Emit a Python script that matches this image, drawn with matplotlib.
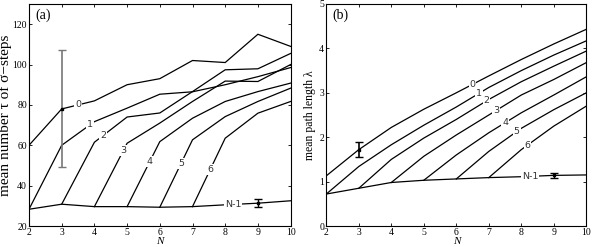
import numpy as np
import matplotlib
matplotlib.use("Agg")
import matplotlib.pyplot as plt

plt.rcParams["font.family"] = ["Liberation Serif", "DejaVu Serif"]
plt.rcParams["mathtext.fontset"] = "stix"

# ---------------- data ----------------
N_all = [2, 3, 4, 5, 6, 7, 8, 9, 10]

# panel (a): mean number tau of sigma-steps
a_c0 = [60, 78, 82, 90, 93, 102, 101, 115, 109]            # N=2..10
a_c1 = [28.3, 60, 71.7, 78.4, 85.3, 86.5, 90, 94, 98.5]    # N=2..10
a_c2 = [30.8, 61.5, 74, 76, 86.6, 97.4, 97.9, 105.5]       # N=3..10
a_c3 = [29.6, 61, 71, 81.7, 91.8, 91.6, 100]               # N=4..10
a_c4 = [29.6, 61.8, 73.4, 81.7, 86.6, 90.8]                # N=5..10
a_c5 = [29.3, 62.7, 74.2, 81.7, 88.3]                      # N=6..10
a_c6 = [29.6, 63.5, 75.9, 81.7]                            # N=7..10
a_nm1 = [28.3, 30.8, 29.6, 29.6, 29.3, 29.6, 30.5, 31.3, 32.5]
a_err_N = [3, 9]
a_err_val = [78, 31.3]
a_err_size = [29, 2]
a_yticks = [20, 40, 60, 80, 100, 120]

# panel (b): mean path length lambda
b_c0 = [1.13, 1.72, 2.22, 2.63, 3.0, 3.38, 3.75, 4.1, 4.43]
b_c1 = [0.72, 1.34, 1.83, 2.27, 2.68, 3.12, 3.5, 3.85, 4.17]
b_c2 = [0.85, 1.5, 1.98, 2.4, 2.85, 3.25, 3.6, 3.94]
b_c3 = [0.98, 1.57, 2.05, 2.5, 2.95, 3.3, 3.68]
b_c4 = [1.03, 1.6, 2.1, 2.55, 2.95, 3.36]
b_c5 = [1.06, 1.68, 2.2, 2.62, 3.0]
b_c6 = [1.09, 1.72, 2.25, 2.7]
b_nm1 = [0.72, 0.85, 0.98, 1.03, 1.06, 1.09, 1.11, 1.14, 1.15]
b_err_N = [3, 9]
b_err_val = [1.72, 1.14]
b_err_size = [0.17, 0.05]
b_yticks = [0, 1, 2, 3, 4, 5]

curve_labels = ["0", "1", "2", "3", "4", "5", "6", "N-1"]
a_label_N = [3.5, 3.87, 4.27, 4.88, 5.7, 6.65, 7.54, 8.24]
b_label_N = [6.5, 6.7, 6.93, 7.22, 7.5, 7.86, 8.19, 8.27]

fig = plt.figure(figsize=(5.94, 2.47), dpi=100)
ax_a = fig.add_axes([29 / 594, 21 / 247, 261.6 / 594, 222 / 247])
ax_b = fig.add_axes([326.3 / 594, 21 / 247, 260 / 594, 222 / 247])


def draw_panel(ax, curves, nm1, label_N, errN, errV, errS, errcolor0, ylim, yticks):
    series = []
    for c in curves:
        xs = N_all[len(N_all) - len(c):]
        series.append((xs, c))
    series.append((N_all, nm1))
    for xs, ys in series:
        ax.plot(xs, ys, color="black", lw=0.9, solid_joinstyle="miter", zorder=2)
    for (xs, ys), lab, ln in zip(series, curve_labels, label_N):
        yv = np.interp(ln, xs, ys)
        ax.text(ln, yv, lab, ha="center", va="center", fontsize=6.8,
                family="DejaVu Sans", color="#333333", zorder=4,
                bbox=dict(boxstyle="square,pad=0.1", fc="white", ec="none"))
    ax.errorbar(errN[0], errV[0], yerr=errS[0], color=errcolor0, lw=1.2,
                capsize=3, capthick=1.0, zorder=3)
    ax.plot(errN[0], errV[0], marker="s", ms=2, color="black", zorder=5)
    ax.errorbar(errN[1], errV[1], yerr=errS[1], color="black", lw=1.0,
                capsize=3, capthick=1.0, zorder=3)
    ax.plot(errN[1], errV[1], marker="s", ms=2, color="black", zorder=5)
    ax.set_xlim(2, 10)
    ax.set_xticks(N_all)
    ax.set_ylim(*ylim)
    ax.set_yticks(yticks)
    ax.tick_params(direction="in", top=True, right=True, length=2.5,
                   width=0.6, labelsize=7, pad=1.5)
    for s in ax.spines.values():
        s.set_linewidth(0.8)
    ax.set_xlabel("N", style="italic", fontsize=8, labelpad=0)


draw_panel(ax_a, [a_c0, a_c1, a_c2, a_c3, a_c4, a_c5, a_c6], a_nm1, a_label_N,
           a_err_N, a_err_val, a_err_size, "#777777", (20, 130), a_yticks)
ax_a.set_ylabel("mean number τ of σ−steps", fontsize=11, labelpad=0)
ax_a.text(0.025, 0.98, "(a)", transform=ax_a.transAxes, ha="left", va="top",
          fontsize=10)

draw_panel(ax_b, [b_c0, b_c1, b_c2, b_c3, b_c4, b_c5, b_c6], b_nm1, b_label_N,
           b_err_N, b_err_val, b_err_size, "black", (0, 5), b_yticks)
ax_b.set_ylabel("mean path length λ", fontsize=8.5, labelpad=2)
ax_b.text(0.025, 0.98, "(b)", transform=ax_b.transAxes, ha="left", va="top",
          fontsize=10)

fig.savefig("out.png", dpi=100)
